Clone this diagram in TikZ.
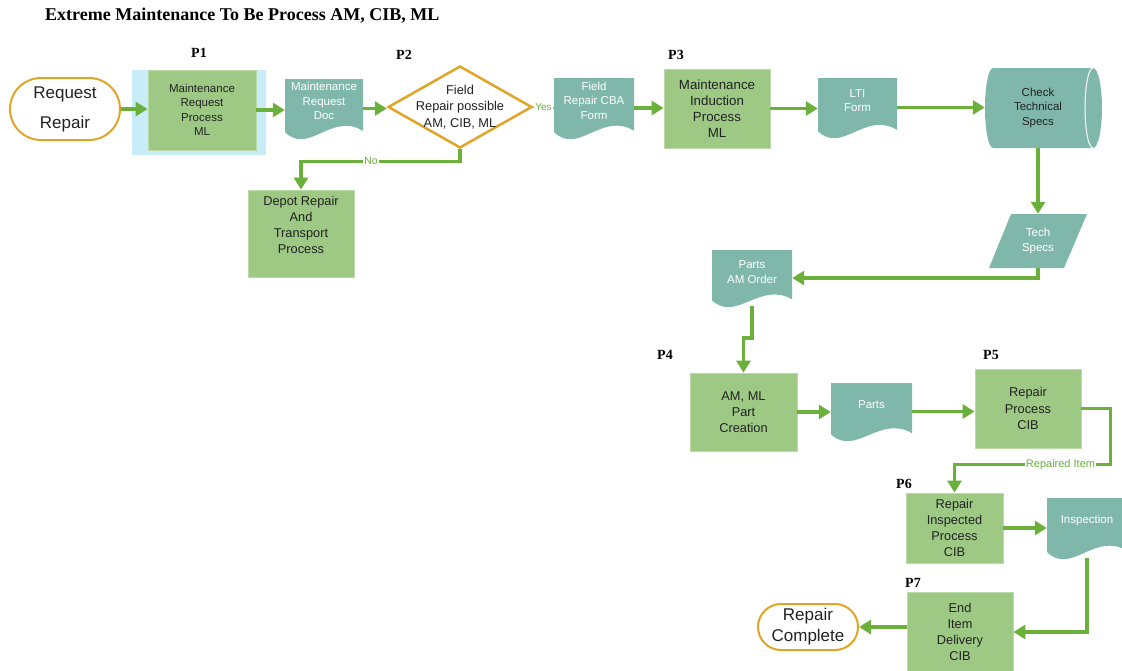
\documentclass[tikz,border=0pt]{standalone}
\usepackage{fontspec}
\setmainfont{Liberation Sans}
\newfontfamily\titlefont{Liberation Serif}
\usetikzlibrary{arrows.meta,shapes.geometric,calc}

\definecolor{boxgreen}{HTML}{9DC985}
\definecolor{boxedge}{HTML}{B9DBA8}
\definecolor{docteal}{HTML}{7FB8AA}
\definecolor{flowgreen}{HTML}{6AB03A}
\definecolor{termorange}{HTML}{E0A526}
\definecolor{selblue}{HTML}{C9ECF9}
\definecolor{darktext}{HTML}{222222}

\tikzset{
  smallfont/.style={font=\fontsize{11.5}{14.5}\selectfont},
  midfont/.style={font=\fontsize{12.8}{16.2}\selectfont},
  proc/.style={rectangle, fill=boxgreen, draw=boxedge, line width=0.8pt,
    inner sep=0pt, align=center, text=darktext, midfont},
  plaintext/.style={align=center, text=darktext, inner sep=0pt},
  doctext/.style={align=center, text=white, smallfont, inner sep=0pt},
  % document symbol: flat top, wavy bottom edge
  docbox/.style={rectangle, inner sep=0pt, path picture={
    \fill[docteal] let \p1=(path picture bounding box.south west),
      \p2=(path picture bounding box.north east),
      \n1={\x2-\x1}, \n2={\y2-\y1} in
      (\x1,\y2) -- (\x2,\y2) -- (\x2,{\y1+0.12*\n2})
      .. controls ({\x1+0.6*\n1},{\y1+0.45*\n2}) and ({\x1+0.3*\n1},{\y1-0.3*\n2})
      .. (\x1,{\y1+0.1*\n2}) -- cycle;
  }},
  % stored-data drum lying on its side
  cylbox/.style={rectangle, inner sep=0pt, path picture={
    \fill[docteal] let \p1=(path picture bounding box.south west),
      \p2=(path picture bounding box.north east) in
      ({\x1+8pt},\y2) -- ({\x2-9pt},\y2)
      arc[start angle=90, end angle=-90, x radius=9pt, y radius=40pt]
      -- ({\x1+8pt},\y1)
      arc[start angle=270, end angle=90, x radius=8pt, y radius=40pt] -- cycle;
    \draw[white, line width=1pt] let \p1=(path picture bounding box.south west),
      \p2=(path picture bounding box.north east) in
      ({\x2-9pt},\y2) arc[start angle=90, end angle=270, x radius=8pt, y radius=40pt];
  }},
  % data parallelogram
  parabox/.style={rectangle, inner sep=0pt, path picture={
    \fill[docteal] let \p1=(path picture bounding box.south west),
      \p2=(path picture bounding box.north east) in
      ({\x1+22pt},\y2) -- (\x2,\y2) -- ({\x2-23pt},\y1) -- (\x1,\y1) -- cycle;
  }},
  term/.style={rectangle, draw=termorange, line width=2pt, fill=white,
    align=center, text=darktext},
  flow/.style={draw=flowgreen, line width=3.5pt,
    -{Triangle[length=12pt,width=14pt]}},
  yesline/.style={draw=flowgreen, line width=1.5pt},
  flowlabel/.style={fill=white, text=flowgreen, inner sep=1pt},
  plabel/.style={font=\titlefont\bfseries\fontsize{14}{16}\selectfont, inner sep=0pt},
}

\begin{document}
\begin{tikzpicture}[x=1pt,y=-1pt]
\useasboundingbox (0,0) rectangle (1122,670);

% heading
\node[font=\titlefont\bfseries\fontsize{18}{20}\selectfont, anchor=west, inner sep=0pt]
  (title) at (45,16) {Extreme Maintenance To Be Process AM, CIB, ML};

% process numbers
\node[plabel] (lp1) at (199,53) {P1};
\node[plabel] (lp2) at (404,55) {P2};
\node[plabel] (lp3) at (676,55) {P3};
\node[plabel] (lp4) at (665,355) {P4};
\node[plabel] (lp5) at (991,355) {P5};
\node[plabel] (lp6) at (904,484) {P6};
\node[plabel] (lp7) at (913,583) {P7};

% start / end terminals
\node[term, minimum width=110pt, minimum height=62pt, rounded corners=31pt,
  font=\fontsize{17}{30}\selectfont] (rr) at (65,109) {Request\\Repair};
\node[term, minimum width=100pt, minimum height=46pt, rounded corners=23pt,
  font=\fontsize{17}{21}\selectfont] (rc) at (808,627) {Repair\\Complete};

% P1 with its selection frame
\node[rectangle, fill=selblue, minimum width=134pt, minimum height=85pt] (sel) at (199,112.5) {};
\node[proc, smallfont, minimum width=108pt, minimum height=80pt] (p1) at (202,110)
  {Maintenance\\Request\\Process\\ML};

% maintenance request document
\node[docbox, minimum width=78pt, minimum height=59pt] (mrd) at (324,108.5) {};
\node[doctext] (mrd-t) at ([yshift=7.5pt]mrd.center) {Maintenance\\Request\\Doc};

% decision
\node[diamond, draw=termorange, line width=2.5pt, fill=white, minimum width=144pt,
  minimum height=82pt, inner sep=0pt] (dia) at (460,107) {};
\node[plaintext, midfont] (dia-t) at (dia.center) {Field\\Repair possible\\AM, CIB, ML};

% depot branch
\node[proc, minimum width=106pt, minimum height=87pt] (depot) at (301,233.5) {};
\node[plaintext, midfont] (depot-t) at ([yshift=8.5pt]depot.center)
  {Depot Repair\\And\\Transport\\Process};

% field repair branch
\node[docbox, minimum width=80pt, minimum height=60pt] (cba) at (594,108) {};
\node[doctext] (cba-t) at ([yshift=7.5pt]cba.center) {Field\\Repair CBA\\Form};

\node[proc, font=\fontsize{13.3}{16}\selectfont, minimum width=106pt, minimum height=79pt]
  (p3) at (717,108.5) {Maintenance\\Induction\\Process\\ML};

\node[docbox, minimum width=79pt, minimum height=59pt] (lti) at (857.5,107.5) {};
\node[doctext] (lti-t) at ([yshift=7pt]lti.center) {LTI\\Form};

\node[cylbox, minimum width=117pt, minimum height=80pt] (chk) at (1043.5,108) {};
\node[plaintext, smallfont] (chk-t) at ([xshift=-5.5pt]chk.center) {Check\\Technical\\Specs};

\node[parabox, doctext, minimum width=98pt, minimum height=54pt] (tech) at (1038,241) {Tech\\Specs};

\node[docbox, minimum width=80pt, minimum height=56pt] (pam) at (752,278) {};
\node[doctext] (pam-t) at ([yshift=6pt]pam.center) {Parts\\AM Order};

\node[proc, minimum width=107pt, minimum height=78pt] (p4) at (743.5,412) {AM, ML\\Part\\Creation};

\node[docbox, minimum width=81pt, minimum height=57pt] (parts) at (871.5,411.5) {};
\node[doctext] (parts-t) at ([yshift=6.5pt]parts.center) {Parts};

\node[proc, minimum width=106pt, minimum height=79pt] (p5) at (1028,408.5) {Repair\\Process\\CIB};

\node[proc, minimum width=97pt, minimum height=70pt] (p6) at (954.5,528)
  {Repair\\Inspected\\Process\\CIB};

\node[docbox, minimum width=80pt, minimum height=60pt] (insp) at (1087,528) {};
\node[doctext] (insp-t) at ([yshift=7pt]insp.center) {Inspection};

\node[proc, minimum width=106pt, minimum height=80pt] (p7) at (960,632)
  {End\\Item\\Delivery\\CIB};

% connectors
\draw[flow] (rr.east) -- (rr.east -| p1.west);
\draw[flow] (p1.east) -- (p1.east -| mrd.west);
\draw[flow] (mrd.east) -- (mrd.east -| dia.west);
\draw[yesline] (dia.east) -- node[flowlabel, font=\fontsize{10}{12}\selectfont] {Yes} (cba.west);
\draw[flow] (dia.south) -- ++(0,12)
  -| node[flowlabel, pos=0.28, font=\fontsize{10.5}{12}\selectfont] {No} (depot.north);
\draw[flow] (cba.east) -- (cba.east -| p3.west);
\draw[flow] (p3.east) -- (p3.east -| lti.west);
\draw[flow] (lti.east) -- (lti.east -| chk.west);
\draw[flow] (chk.south -| tech.north) -- (tech.north);
\draw[flow] (tech.south) |- (pam.east);
\draw[flow] (pam.south) -- ++(0,32) -| (p4.north);
\draw[flow] (p4.east) -- (p4.east -| parts.west);
\draw[flow] (parts.east) -- (parts.east -| p5.west);
\draw[flow] (p5.east) -- ++(29,0)
  |- node[flowlabel, pos=0.66, font=\fontsize{11}{12}\selectfont] {Repaired Item}
  ($(p6.north)+(0,-28)$) -- (p6.north);
\draw[flow] (p6.east) -- (p6.east -| insp.west);
\draw[flow] (insp.south) |- (p7.east);
\draw[flow] (p7.west |- rc.east) -- (rc.east);
\end{tikzpicture}
\end{document}
